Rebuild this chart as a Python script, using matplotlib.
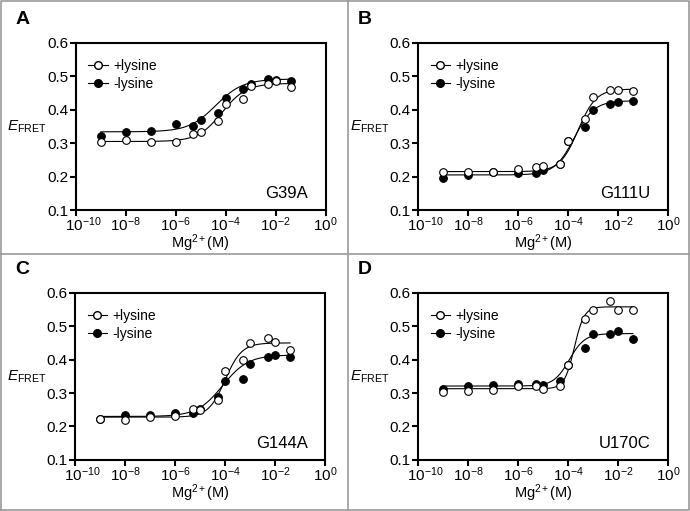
import numpy as np
import matplotlib
matplotlib.use('Agg')
import matplotlib.pyplot as plt
import matplotlib.transforms as mtransforms
from matplotlib.lines import Line2D

plt.rcParams['font.family'] = ['Liberation Sans', 'DejaVu Sans']
plt.rcParams['mathtext.fontset'] = 'custom'
plt.rcParams['mathtext.rm'] = 'Liberation Sans'
plt.rcParams['mathtext.it'] = 'Liberation Sans:italic'

# Mg2+ concentrations (M)
mg = [1e-9, 1e-8, 1e-7, 1e-6, 5e-6, 1e-5, 5e-5, 1e-4, 5e-4, 1e-3, 5e-3, 1e-2, 4e-2]

panels = ['A', 'B', 'C', 'D']
mutants = ['G39A', 'G111U', 'G144A', 'U170C']

# E_FRET with lysine (open circles)
plus_lys = [
    [0.305, 0.310, 0.305, 0.305, 0.327, 0.333, 0.365, 0.418, 0.432, 0.470, 0.478, 0.485, 0.467],
    [0.214, 0.215, 0.214, 0.222, 0.228, 0.231, 0.238, 0.308, 0.373, 0.437, 0.460, 0.460, 0.456],
    [0.223, 0.218, 0.229, 0.230, 0.252, 0.250, 0.280, 0.365, 0.398, 0.450, 0.465, 0.453, 0.430],
    [0.303, 0.305, 0.310, 0.320, 0.320, 0.313, 0.322, 0.385, 0.522, 0.550, 0.576, 0.550, 0.550],
]
# E_FRET without lysine (filled circles)
minus_lys = [
    [0.320, 0.334, 0.337, 0.357, 0.352, 0.368, 0.389, 0.434, 0.462, 0.477, 0.493, 0.490, 0.485],
    [0.197, 0.205, 0.213, 0.210, 0.212, 0.220, 0.238, 0.308, 0.347, 0.398, 0.417, 0.424, 0.426],
    [0.223, 0.233, 0.235, 0.240, 0.241, 0.253, 0.288, 0.335, 0.343, 0.388, 0.407, 0.415, 0.407],
    [0.313, 0.320, 0.323, 0.327, 0.328, 0.324, 0.336, 0.385, 0.434, 0.478, 0.476, 0.487, 0.462],
]

# dose-response fits: bottom, top, logEC50, hill
fit_plus = [
    (0.305, 0.479, -4.15, 0.9),
    (0.215, 0.462, -3.60, 1.2),
    (0.228, 0.450, -4.00, 1.3),
    (0.313, 0.558, -3.75, 2.2),
]
fit_minus = [
    (0.334, 0.492, -4.40, 0.8),
    (0.205, 0.427, -3.75, 1.1),
    (0.230, 0.414, -4.10, 0.85),
    (0.321, 0.478, -3.95, 1.4),
]


def hill(x, bottom, top, logec, h):
    return bottom + (top - bottom) / (1 + 10 ** ((logec - np.log10(x)) * h))


fig = plt.figure(figsize=(6.9, 5.11), dpi=100)

positions = [
    [0.110, 0.589, 0.362, 0.327],
    [0.606, 0.589, 0.362, 0.327],
    [0.109, 0.100, 0.362, 0.327],
    [0.606, 0.100, 0.362, 0.327],
]
letter_pos = [(0.022, 0.978), (0.519, 0.978), (0.022, 0.489), (0.519, 0.489)]

xfit = np.logspace(np.log10(mg[0]), np.log10(mg[-1]), 300)
nudge = mtransforms.ScaledTranslation(7 / 100, 0, fig.dpi_scale_trans)

for i in range(4):
    ax = fig.add_axes(positions[i])
    ax.plot(xfit, hill(xfit, *fit_plus[i]), color='black', lw=0.8, zorder=2)
    ax.plot(xfit, hill(xfit, *fit_minus[i]), color='black', lw=0.8, zorder=2)
    ax.plot(mg, minus_lys[i], 'o', ms=5.5, mfc='black', mec='black', mew=0.8, zorder=3)
    ax.plot(mg, plus_lys[i], 'o', ms=5.5, mfc='white', mec='black', mew=0.8, zorder=4)

    ax.set_xscale('log')
    ax.set_xlim(1e-10, 1e0)
    ax.set_ylim(0.1, 0.6)
    ax.set_xticks([1e-10, 1e-8, 1e-6, 1e-4, 1e-2, 1e0])
    ax.set_xticklabels([r'10$^{-10}$', r'10$^{-8}$', r'10$^{-6}$', r'10$^{-4}$',
                        r'10$^{-2}$', r'10$^{0}$'])
    ax.xaxis.set_minor_locator(matplotlib.ticker.NullLocator())
    ax.set_yticks([0.1, 0.2, 0.3, 0.4, 0.5, 0.6])
    ax.set_yticklabels(['0.1', '0.2', '0.3', '0.4', '0.5', '0.6'])
    ax.tick_params(axis='both', direction='out', length=4, width=1.5, labelsize=11, pad=1.5)
    ax.tick_params(axis='x', pad=0)
    for s in ax.spines.values():
        s.set_linewidth(1.5)
    # first x label sits a little right of its tick, clear of the 0.1 label
    first = ax.get_xticklabels()[0]
    first.set_transform(first.get_transform() + nudge)

    ax.set_xlabel(r'Mg$^{2+}$(M)', fontsize=10.5, va='baseline')
    ax.xaxis.set_label_coords(0.5, -0.23)
    ax.set_ylabel(r'$E_{\mathrm{FRET}}$', fontsize=11, rotation=0, ha='right', va='center')
    ax.yaxis.set_label_coords(-0.115, 0.5)

    ax.text(0.93, 0.055, mutants[i], transform=ax.transAxes, ha='right', va='bottom', fontsize=12)

    handles = [
        Line2D([], [], color='black', lw=0.8, marker='o', ms=5.5, mfc='white', mec='black'),
        Line2D([], [], color='black', lw=0.8, marker='o', ms=5.5, mfc='black', mec='black'),
    ]
    ax.legend(handles, ['+lysine', '-lysine'], loc='upper left', frameon=False,
              fontsize=10, handlelength=1.4, handletextpad=0.4, labelspacing=0.3,
              borderaxespad=0.5, bbox_to_anchor=(0.0, 0.98))

    fig.text(letter_pos[i][0], letter_pos[i][1], panels[i], fontsize=14,
             fontweight='bold', ha='left', va='top')

# panel frames
grey = '#9a9a9a'
fig.add_artist(Line2D([0.001, 0.999, 0.999, 0.001, 0.001], [0.001, 0.001, 0.999, 0.999, 0.001],
                      color=grey, lw=1.2, transform=fig.transFigure))
fig.add_artist(Line2D([0.504, 0.504], [0, 1], color=grey, lw=1.2, transform=fig.transFigure))
fig.add_artist(Line2D([0, 1], [0.502, 0.502], color=grey, lw=1.2, transform=fig.transFigure))

fig.savefig('out.png', dpi=100)
